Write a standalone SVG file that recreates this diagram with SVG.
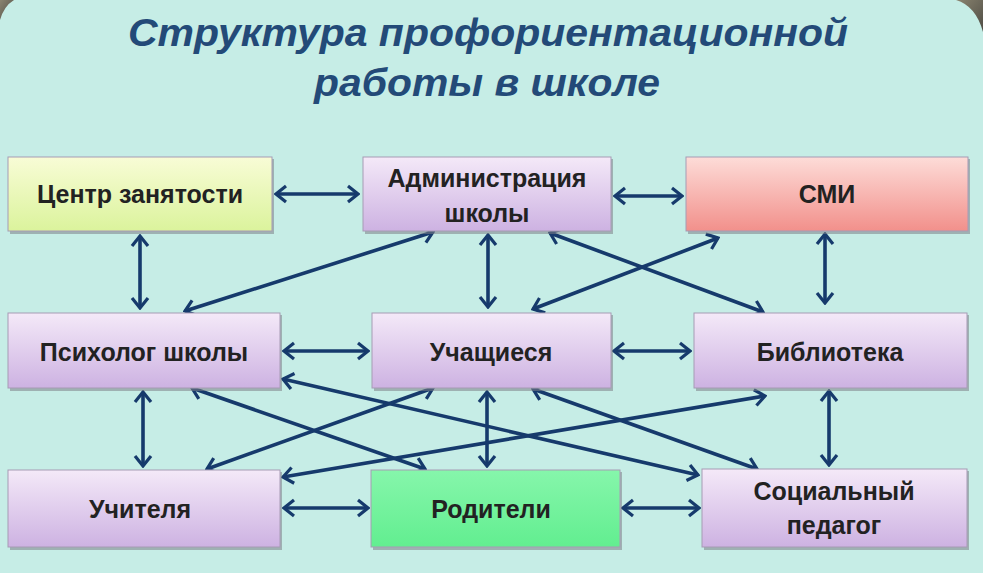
<svg xmlns="http://www.w3.org/2000/svg" width="983" height="573" viewBox="0 0 983 573">
<defs>
<linearGradient id="gPurple" x1="0" y1="0" x2="0" y2="1"><stop offset="0" stop-color="#f4e9f8"/><stop offset="1" stop-color="#cdb2e2"/></linearGradient>
<linearGradient id="gYellow" x1="0" y1="0" x2="0" y2="1"><stop offset="0" stop-color="#f8fcd6"/><stop offset="1" stop-color="#dbf39c"/></linearGradient>
<linearGradient id="gRed" x1="0" y1="0" x2="0" y2="1"><stop offset="0" stop-color="#fddcd8"/><stop offset="1" stop-color="#f2908b"/></linearGradient>
<linearGradient id="gGreen" x1="0" y1="0" x2="0" y2="1"><stop offset="0" stop-color="#86f6ab"/><stop offset="1" stop-color="#62ee90"/></linearGradient>
<linearGradient id="gCorner" x1="0" y1="0" x2="1" y2="1"><stop offset="0" stop-color="#8a8470"/><stop offset="1" stop-color="#4e4c44"/></linearGradient>
<marker id="arr" viewBox="0 -10 14 20" refX="12" refY="0" markerWidth="14" markerHeight="20" markerUnits="userSpaceOnUse" orient="auto-start-reverse">
<path d="M2,-8 L12,0 L2,8" fill="none" stroke="#163a6c" stroke-width="3.2" stroke-linejoin="miter"/>
</marker>
</defs>
<style>
.bg{fill:#c6ede6}
.box{stroke:#a69bb4;stroke-width:1}
.shadow{fill:#7d7f86;opacity:0.55}
.lbl{font-family:"Liberation Sans",Arial,sans-serif;font-weight:bold;font-size:25px;fill:#222222;text-anchor:middle}
.title{font-family:"Liberation Sans",Arial,sans-serif;font-style:italic;font-weight:bold;font-size:38px;fill:#234a78;text-anchor:middle}
.con line{stroke:#163a6c;stroke-width:3.6;marker-start:url(#arr);marker-end:url(#arr)}
</style>
<rect class="bg" x="0" y="0" width="983" height="573"/>
<path d="M956,0 Q976,6 983,32 L983,0 Z" fill="url(#gCorner)"/>
<path d="M0,0 L14,0 Q4,6 0,20 Z" fill="url(#gCorner)"/>
<g id="title">
<text class="title" x="488" y="46" textLength="720" lengthAdjust="spacingAndGlyphs">Структура профориентационной</text>
<text class="title" x="487" y="96" textLength="346" lengthAdjust="spacingAndGlyphs">работы в школе</text>
</g>
<g class="con" id="connectors">
<line x1="276" y1="194" x2="358" y2="194"/>
<line x1="615" y1="196" x2="682" y2="196"/>
<line x1="284" y1="351" x2="368" y2="351"/>
<line x1="614" y1="351" x2="690" y2="351"/>
<line x1="284" y1="508" x2="368" y2="508"/>
<line x1="623" y1="508" x2="699" y2="508"/>
<line x1="140" y1="236" x2="140" y2="308"/>
<line x1="488" y1="235" x2="488" y2="307"/>
<line x1="825" y1="234" x2="825" y2="303"/>
<line x1="143" y1="392" x2="143" y2="466"/>
<line x1="487" y1="392" x2="487" y2="466"/>
<line x1="829" y1="391" x2="829" y2="465"/>
<line x1="433" y1="232" x2="185" y2="311"/>
<line x1="550" y1="233" x2="763" y2="312"/>
<line x1="718" y1="238" x2="533" y2="309"/>
<line x1="192" y1="388" x2="425" y2="469"/>
<line x1="283" y1="379" x2="698" y2="475"/>
<line x1="433" y1="388" x2="207" y2="469"/>
<line x1="533" y1="389" x2="757" y2="469"/>
<line x1="765" y1="396" x2="283" y2="477"/>
</g>
<g id="n-centr">
<rect class="shadow" x="10" y="159" width="264" height="75"/>
<rect class="box" x="8" y="157" width="264" height="74" fill="url(#gYellow)"/>
<text class="lbl" x="140" y="203">Центр занятости</text>
</g>
<g id="n-admin">
<rect class="shadow" x="365" y="159" width="248" height="75"/>
<rect class="box" x="363" y="157" width="248" height="74" fill="url(#gPurple)"/>
<text class="lbl" x="487" y="187">Администрация</text>
<text class="lbl" x="487" y="222">школы</text>
</g>
<g id="n-smi">
<rect class="shadow" x="688" y="159" width="282" height="75"/>
<rect class="box" x="686" y="157" width="282" height="74" fill="url(#gRed)"/>
<text class="lbl" x="827" y="203">СМИ</text>
</g>
<g id="n-psy">
<rect class="shadow" x="10" y="315" width="272" height="76"/>
<rect class="box" x="8" y="313" width="272" height="75" fill="url(#gPurple)"/>
<text class="lbl" x="144" y="361">Психолог школы</text>
</g>
<g id="n-uch">
<rect class="shadow" x="374" y="315" width="239" height="76"/>
<rect class="box" x="372" y="313" width="239" height="75" fill="url(#gPurple)"/>
<text class="lbl" x="491" y="361">Учащиеся</text>
</g>
<g id="n-bib">
<rect class="shadow" x="696" y="315" width="273" height="76"/>
<rect class="box" x="694" y="313" width="273" height="75" fill="url(#gPurple)"/>
<text class="lbl" x="830" y="361">Библиотека</text>
</g>
<g id="n-teach">
<rect class="shadow" x="10" y="472" width="272" height="78"/>
<rect class="box" x="8" y="470" width="272" height="77" fill="url(#gPurple)"/>
<text class="lbl" x="140" y="518">Учителя</text>
</g>
<g id="n-par">
<rect class="shadow" x="373" y="472" width="249" height="78"/>
<rect class="box" x="371" y="470" width="249" height="77" fill="url(#gGreen)"/>
<text class="lbl" x="491" y="518">Родители</text>
</g>
<g id="n-soc">
<rect class="shadow" x="704" y="471" width="265" height="79"/>
<rect class="box" x="702" y="469" width="265" height="78" fill="url(#gPurple)"/>
<text class="lbl" x="834" y="500">Социальный</text>
<text class="lbl" x="834" y="534">педагог</text>
</g>
</svg>
